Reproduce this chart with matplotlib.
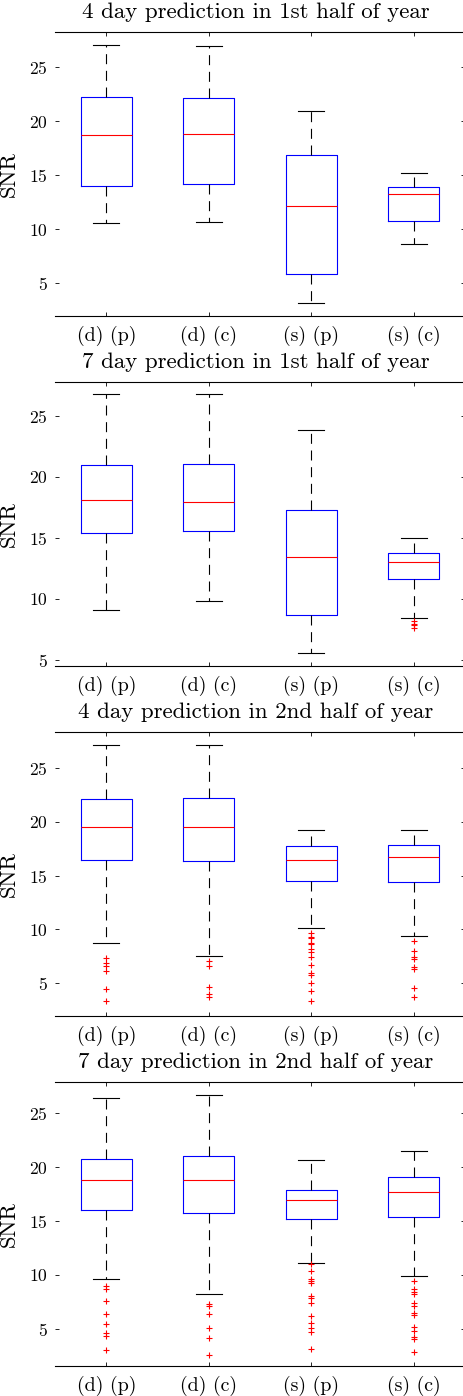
import matplotlib
matplotlib.use("Agg")
import matplotlib.pyplot as plt

plt.rcParams['font.family'] = ['cmr10', 'DejaVu Serif']
plt.rcParams['axes.formatter.use_mathtext'] = True

categories = ['(d) (p)', '(d) (c)', '(s) (p)', '(s) (c)']
titles = ['4 day prediction in 1st half of year',
          '7 day prediction in 1st half of year',
          '4 day prediction in 2nd half of year',
          '7 day prediction in 2nd half of year']
yticks = [5, 10, 15, 20, 25]

# Panel 1: 4 day, 1st half
p1_whishi = [27.10, 26.98, 20.93, 15.19]
p1_q3 = [22.25, 22.19, 16.88, 13.92]
p1_med = [18.77, 18.86, 12.16, 13.30]
p1_q1 = [14.01, 14.23, 5.80, 10.77]
p1_whislo = [10.59, 10.62, 3.12, 8.64]
p1_fliers = [[], [], [], []]

# Panel 2: 7 day, 1st half
p2_whishi = [26.78, 26.78, 23.88, 14.97]
p2_q3 = [21.01, 21.07, 17.32, 13.77]
p2_med = [18.14, 17.98, 13.42, 13.00]
p2_q1 = [15.44, 15.55, 8.72, 11.64]
p2_whislo = [9.13, 9.81, 5.55, 8.44]
p2_fliers = [[], [], [], [8.2, 7.95, 7.85, 7.6]]

# Panel 3: 4 day, 2nd half
p3_whishi = [27.2, 27.2, 19.26, 19.26]
p3_q3 = [22.15, 22.27, 17.78, 17.84]
p3_med = [19.54, 19.54, 16.5, 16.78]
p3_q1 = [16.47, 16.32, 14.52, 14.36]
p3_whislo = [8.69, 7.48, 10.09, 9.37]
p3_fliers = [[7.3, 6.9, 6.55, 6.15, 4.44, 3.33],
             [7.05, 6.58, 4.66, 3.98, 3.70],
             [9.62, 9.31, 9.22, 8.75, 8.60, 8.16, 7.85, 7.45, 6.67, 5.90, 5.74, 5.03, 4.28, 3.33],
             [8.91, 7.98, 7.45, 7.2, 6.46, 6.27, 4.56, 3.73]]

# Panel 4: 7 day, 2nd half
p4_whishi = [26.36, 26.69, 20.69, 21.52]
p4_q3 = [20.78, 21.02, 17.91, 19.08]
p4_med = [18.84, 18.78, 16.96, 17.70]
p4_q1 = [16.06, 15.75, 15.23, 15.39]
p4_whislo = [9.59, 8.20, 11.07, 9.93]
p4_fliers = [[8.98, 8.67, 7.56, 6.39, 5.5, 4.60, 4.35, 3.06],
             [7.28, 7.10, 6.36, 5.12, 4.14, 2.55],
             [11.0, 10.33, 9.59, 9.44, 9.23, 8.05, 7.90, 7.43, 6.2, 5.58, 5.06, 4.75, 3.12],
             [9.44, 8.67, 8.45, 8.21, 7.37, 7.15, 6.51, 6.29, 5.21, 4.84, 4.23, 4.07, 2.90]]

panels = [
    (p1_whishi, p1_q3, p1_med, p1_q1, p1_whislo, p1_fliers),
    (p2_whishi, p2_q3, p2_med, p2_q1, p2_whislo, p2_fliers),
    (p3_whishi, p3_q3, p3_med, p3_q1, p3_whislo, p3_fliers),
    (p4_whishi, p4_q3, p4_med, p4_q1, p4_whislo, p4_fliers),
]
ylims = [(1.95, 28.3), (4.5, 27.8), (1.93, 28.4), (1.57, 27.9)]

W, H = 464, 1396
fig = plt.figure(figsize=(W / 100, H / 100), dpi=100)

tops_px = [31.7, 381.7, 731.7, 1081.7]
ax_h_px = 284.3
left_px, right_px = 55, 465

# target rendered sizes in pixels (measured on the reference)
title_w_target = 347.0
xtick_w_target = 60.0
ytick_w_target = 18.5
ylabel_h_target = 46.0

axes = []
for i, (whishi, q3, med, q1, whislo, fliers) in enumerate(panels):
    bottom = 1 - (tops_px[i] + ax_h_px) / H
    ax = fig.add_axes([left_px / W, bottom, (right_px - left_px) / W, ax_h_px / H])
    stats = []
    for j in range(len(categories)):
        stats.append(dict(med=med[j], q1=q1[j], q3=q3[j], whislo=whislo[j],
                          whishi=whishi[j], fliers=fliers[j], label=categories[j]))
    ax.bxp(stats, positions=[1, 2, 3, 4], widths=0.5, showfliers=True,
           boxprops=dict(color='#0000ff', linewidth=0.8),
           medianprops=dict(color='#ff0000', linewidth=0.8),
           whiskerprops=dict(color='black', linewidth=0.8, linestyle=(0, (9, 6))),
           capprops=dict(color='black', linewidth=0.8),
           flierprops=dict(marker='+', markeredgecolor='#ff0000', markersize=4,
                           markeredgewidth=0.8, linestyle='none'))
    ax.set_xlim(0.5, 4.5)
    ax.set_ylim(*ylims[i])
    ax.set_yticks(yticks)
    ax.set_xticks([1, 2, 3, 4])
    ax.set_xticklabels(categories)
    ax.spines['left'].set_visible(False)
    ax.spines['right'].set_visible(False)
    ax.spines['top'].set_linewidth(0.8)
    ax.spines['bottom'].set_linewidth(0.8)
    ax.tick_params(axis='both', direction='in', length=3, width=0.6,
                   labelsize=14, top=True, right=True)
    ax.tick_params(axis='y', pad=5)
    ax.tick_params(axis='x', pad=7)
    ax.set_ylabel('SNR', fontsize=16.5)
    ax.yaxis.set_label_coords(-0.088, 0.5)
    ax.set_title(titles[i], fontsize=16.5, pad=10, x=0.489)
    axes.append(ax)

# Fit font sizes to the measured reference text sizes
fig.canvas.draw()
r = fig.canvas.get_renderer()
a0 = axes[0]
tw = a0.title.get_window_extent(r).width
title_fs = 16.5 * title_w_target / tw
xw = a0.get_xticklabels()[0].get_window_extent(r).width
xt_fs = 14 * xtick_w_target / xw
ylab = [t for t in a0.get_yticklabels() if t.get_text() and '25' in t.get_text()]
yw = ylab[0].get_window_extent(r).width if ylab else 19.0
yt_fs = 14 * ytick_w_target / yw
lh = a0.yaxis.label.get_window_extent(r).height
yl_fs = 16.5 * ylabel_h_target / lh

for ax in axes:
    ax.title.set_fontsize(title_fs)
    for t in ax.get_xticklabels():
        t.set_fontsize(xt_fs)
    for t in ax.get_yticklabels():
        t.set_fontsize(yt_fs)
    ax.yaxis.label.set_fontsize(yl_fs)

fig.savefig('out.png', dpi=100)
